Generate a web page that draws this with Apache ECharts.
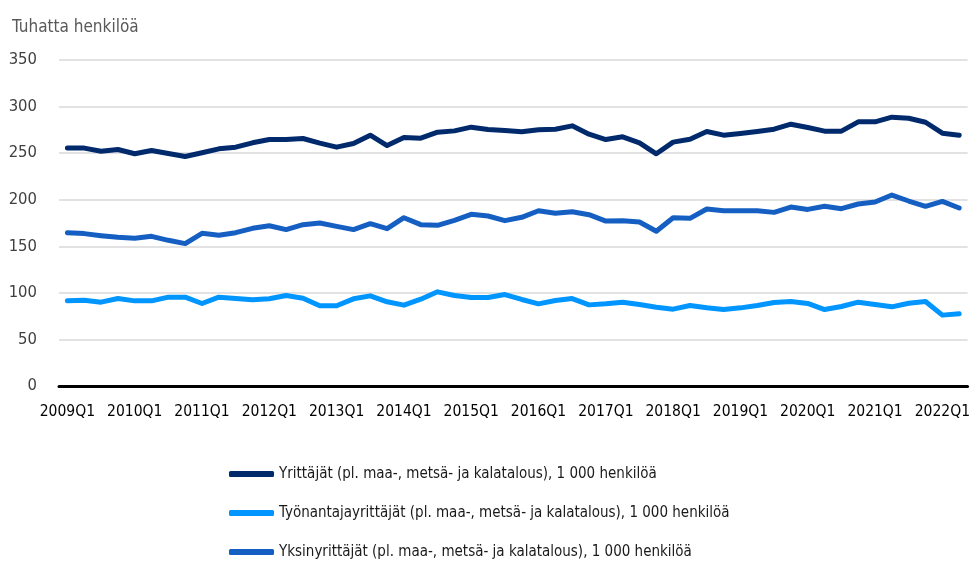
<!DOCTYPE html>
<html>
<head>
<meta charset="utf-8">
<script src="https://cdn.jsdelivr.net/npm/echarts@6/dist/echarts.min.js"></script>
<style>
  html, body { margin: 0; padding: 0; background: #fff; }
  #chart { width: 973px; height: 562px; }
</style>
</head>
<body>
<div id="chart"></div>
<script>
// Quarters 2009Q1 .. 2022Q2
const categories = [];
for (let y = 2009; y <= 2022; y++) {
  for (let q = 1; q <= 4; q++) {
    if (y === 2022 && q > 2) break;
    categories.push(y + 'Q' + q);
  }
}

const seriesNames = [
  'Yrittäjät (pl. maa-, metsä- ja kalatalous), 1 000 henkilöä',
  'Työnantajayrittäjät (pl. maa-, metsä- ja kalatalous), 1 000 henkilöä',
  'Yksinyrittäjät (pl. maa-, metsä- ja kalatalous), 1 000 henkilöä'
];

const yrittajat = [
  255.4, 255.4, 252.1, 253.9, 249.3, 252.9, 249.6, 246.4, 250.4, 254.6,
  256.4, 261.1, 264.6, 264.6, 265.7, 260.7, 256.4, 260.4, 269.3, 258.2,
  266.8, 266.1, 272.5, 273.9, 277.9, 275.4, 274.3, 272.9, 275.0, 275.7,
  279.3, 270.4, 264.6, 267.5, 261.1, 249.3, 261.8, 265.0, 273.2, 269.3,
  271.1, 273.2, 275.7, 281.1, 277.5, 273.6, 273.6, 283.6, 283.6, 288.6,
  287.5, 283.2, 271.4, 269.3
];

const tyonantajayrittajat = [
  91.4, 92.1, 90.0, 93.9, 91.4, 91.4, 95.4, 95.4, 88.6, 95.4,
  93.9, 92.5, 93.6, 97.1, 94.3, 86.1, 86.1, 93.6, 96.8, 90.4,
  86.8, 93.2, 101.1, 97.1, 95.0, 95.0, 98.2, 92.9, 88.2, 91.8,
  93.9, 87.1, 88.2, 90.0, 87.5, 84.6, 82.5, 86.4, 84.0, 82.1,
  83.9, 86.4, 89.6, 90.7, 88.6, 82.1, 85.4, 90.0, 87.5, 85.0,
  88.9, 90.7, 76.1, 77.5
];

const yksinyrittajat = [
  164.6, 163.6, 161.4, 159.6, 158.6, 160.7, 156.4, 152.9, 163.9, 161.8,
  164.6, 169.3, 172.1, 167.9, 173.2, 175.0, 171.4, 167.9, 174.3, 168.9,
  180.7, 173.2, 172.5, 177.9, 184.3, 182.5, 177.5, 181.1, 188.2, 185.4,
  187.1, 183.9, 177.1, 177.5, 176.1, 166.1, 180.7, 180.0, 190.0, 188.2,
  188.2, 188.2, 186.4, 192.1, 189.6, 192.9, 190.4, 195.4, 197.5, 205.0,
  198.6, 192.9, 198.2, 191.1
];

const yTicks = [0, 50, 100, 150, 200, 250, 300, 350];
const yTitle = 'Tuhatta henkilöä';

const FONT = '"Liberation Sans Narrow", "DejaVu Sans Condensed", "Roboto", sans-serif';
const colors = ['#002a6c', '#0095ff', '#155fc3'];

const chart = echarts.init(document.getElementById('chart'), null, { renderer: 'canvas' });

const option = {
  animation: false,
  backgroundColor: '#ffffff',
  textStyle: { fontFamily: FONT },
  title: {
    text: yTitle,
    left: 7,
    top: 14,
    textStyle: { fontFamily: FONT, fontSize: 17, fontWeight: 'normal', color: '#595959' }
  },
  grid: { left: 59, right: 4, top: 60, bottom: 176, containLabel: false },
  xAxis: {
    type: 'category',
    data: categories,
    boundaryGap: true,
    axisLine: { show: true, lineStyle: { color: '#000', width: 3 } },
    axisTick: { show: false },
    axisLabel: {
      interval: 3,
      color: '#000',
      fontFamily: FONT,
      fontSize: 15.5,
      margin: 18
    },
    splitLine: { show: false }
  },
  yAxis: {
    type: 'value',
    min: yTicks[0],
    max: yTicks[yTicks.length - 1],
    interval: 50,
    axisLine: { show: false },
    axisTick: { show: false },
    axisLabel: { color: '#404040', fontFamily: FONT, fontSize: 16.5, margin: 22 },
    splitLine: { show: true, lineStyle: { color: '#d9d9d9', width: 1.5 } }
  },
  legend: {
    orient: 'vertical',
    left: 224,
    top: 459,
    height: 120,
    itemWidth: 45,
    itemHeight: 6,
    itemGap: 19,
    itemStyle: { borderWidth: 0 },
    icon: 'roundRect',
    textStyle: { fontFamily: FONT, fontSize: 15, color: '#1a1a1a', lineHeight: 20 },
    data: seriesNames
  },
  series: [
    { name: seriesNames[0], data: yrittajat, color: colors[0] },
    { name: seriesNames[1], data: tyonantajayrittajat, color: colors[1] },
    { name: seriesNames[2], data: yksinyrittajat, color: colors[2] }
  ].map(s => ({
    type: 'line',
    name: s.name,
    data: s.data,
    showSymbol: false,
    symbol: 'none',
    itemStyle: { color: s.color },
    lineStyle: { color: s.color, width: 5, cap: 'round', join: 'round' },
    z: 3
  }))
};

chart.setOption(option);
</script>
</body>
</html>
